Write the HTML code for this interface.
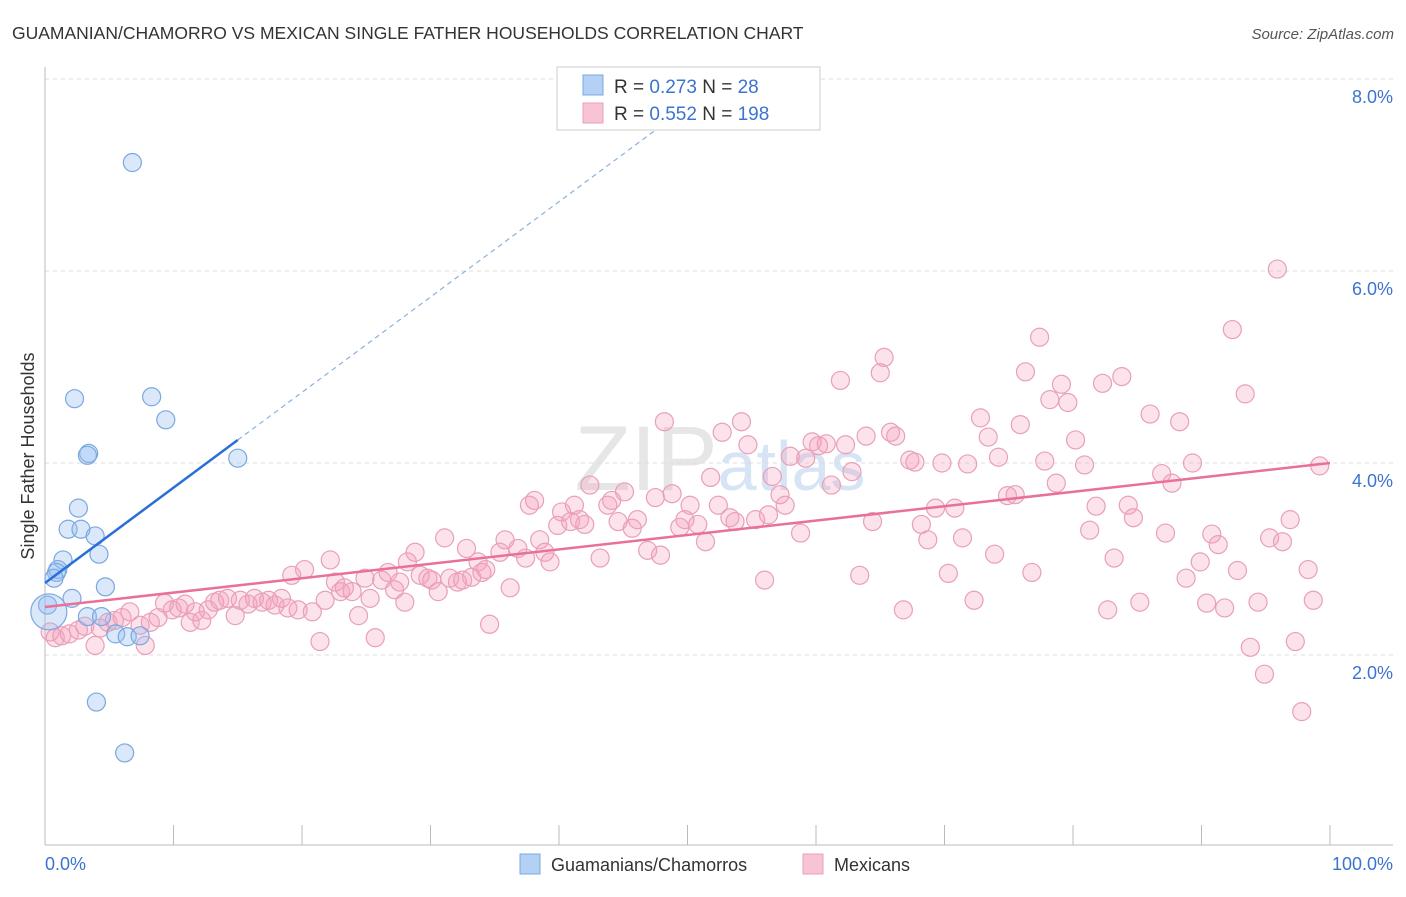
<!DOCTYPE html>
<html><head><meta charset="utf-8"><style>
body{margin:0;background:#fff;font-family:"Liberation Sans",sans-serif;}
svg text{font-family:"Liberation Sans",sans-serif;}
</style></head><body>
<svg id="chart" width="1406" height="892" xmlns="http://www.w3.org/2000/svg">
<text x="12" y="39" font-size="17.5" fill="#333">GUAMANIAN/CHAMORRO VS MEXICAN SINGLE FATHER HOUSEHOLDS CORRELATION CHART</text>
<text x="1394" y="39" font-size="15" fill="#555" text-anchor="end" font-style="italic">Source: ZipAtlas.com</text>
<text x="720" y="490" font-size="92" fill="#e6e6e6" text-anchor="middle" font-family="Liberation Serif">ZIP<tspan fill="#d6e4f5" font-family="Liberation Sans" font-size="70">atlas</tspan></text>
<g id="grid"></g>
<g id="axes"></g>
<g id="marks"></g>
<text transform="translate(34,456) rotate(-90)" font-size="18" fill="#333" text-anchor="middle">Single Father Households</text>
<g>
<rect x="557" y="67" width="263" height="63" fill="#fff" stroke="#ccc"/>
<rect x="583" y="75" width="20" height="20" fill="#b5d0f5" stroke="#7aa8e0"/>
<rect x="583" y="103" width="20" height="20" fill="#f8c4d4" stroke="#e8a0b8"/>
<text x="614" y="93" font-size="19" fill="#333">R = <tspan fill="#3b74d0">0.273</tspan>   N = <tspan fill="#3b74d0">  28</tspan></text>
<text x="614" y="120" font-size="19" fill="#333">R = <tspan fill="#3b74d0">0.552</tspan>   N = <tspan fill="#3b74d0">198</tspan></text>
</g>
<g>
<rect x="520" y="854" width="20" height="20" fill="#b5d0f5" stroke="#7aa8e0"/>
<text x="551" y="871" font-size="18" fill="#333">Guamanians/Chamorros</text>
<rect x="803" y="854" width="20" height="20" fill="#f8c4d4" stroke="#e8a0b8"/>
<text x="834" y="871" font-size="18" fill="#333">Mexicans</text>
</g>
</svg>
<script>
const yTicks=[2,4,6,8];
const yTickLabels=["2.0%","4.0%","6.0%","8.0%"];
const xTicks=[0,10,20,30,40,50,60,70,80,90,100];
const blueX=[6.8,2.3,8.3,9.4,3.4,3.3,15.0,2.6,1.8,2.8,3.9,4.2,1.4,1.0,0.9,0.7,4.7,2.1,0.2,3.3,4.4,5.5,6.4,7.4,4.0,6.2,0.3];
const blueY=[7.13,4.67,4.69,4.45,4.10,4.08,4.05,3.53,3.31,3.31,3.24,3.05,2.99,2.89,2.86,2.80,2.71,2.59,2.52,2.40,2.40,2.22,2.19,2.20,1.51,0.98,2.45];
const pinkX=[0.4,0.8,1.3,1.9,2.6,3.1,3.9,4.3,4.9,5.4,6.0,6.6,7.4,7.8,8.2,8.8,9.3,9.9,10.4,10.9,11.3,11.7,12.2,12.7,13.2,13.6,14.2,14.8,15.2,15.8,16.3,16.9,17.4,17.9,18.4,18.9,19.2,19.7,20.2,20.8,21.4,21.8,22.2,22.6,23.0,23.3,23.9,24.4,24.9,25.3,25.7,26.2,26.7,27.2,27.6,28.0,28.2,28.8,29.2,29.8,30.1,30.6,31.1,31.5,32.1,32.5,32.8,33.2,33.7,34.0,34.3,34.6,35.4,35.8,36.2,36.8,37.4,37.7,38.1,38.5,38.9,39.3,39.9,40.2,40.9,41.2,41.6,42.0,42.4,43.2,43.8,44.1,44.6,45.1,45.7,46.1,46.9,47.5,47.9,48.2,48.8,49.4,49.8,50.2,50.8,51.4,51.8,52.4,52.7,53.3,53.7,54.2,54.7,55.3,56.0,56.3,56.6,57.2,57.6,58.0,58.8,59.2,59.7,60.2,60.8,61.2,61.9,62.3,62.8,63.4,63.9,64.4,65.0,65.3,65.8,66.2,66.8,67.3,67.7,68.2,68.7,69.3,69.8,70.3,70.8,71.4,71.8,72.3,72.8,73.4,73.9,74.2,74.9,75.5,75.9,76.3,76.8,77.4,77.8,78.2,78.7,79.1,79.6,80.2,80.9,81.3,81.8,82.3,82.7,83.2,83.8,84.3,84.7,85.2,86.0,86.9,87.2,87.7,88.3,88.8,89.3,89.9,90.4,90.8,91.3,91.8,92.4,92.8,93.4,93.8,94.4,94.9,95.3,95.9,96.3,96.9,97.3,97.8,98.3,98.7,99.2];
const pinkY=[2.24,2.18,2.20,2.22,2.26,2.30,2.10,2.28,2.34,2.36,2.39,2.45,2.31,2.10,2.34,2.39,2.54,2.47,2.49,2.53,2.34,2.45,2.36,2.47,2.55,2.57,2.59,2.41,2.57,2.53,2.59,2.55,2.57,2.52,2.59,2.49,2.83,2.47,2.89,2.45,2.14,2.57,2.99,2.76,2.66,2.70,2.66,2.41,2.80,2.59,2.18,2.78,2.86,2.68,2.76,2.55,2.97,3.07,2.83,2.80,2.78,2.66,3.22,2.80,2.76,2.78,3.11,2.81,2.97,2.86,2.89,2.32,3.07,3.20,2.70,3.11,3.01,3.56,3.61,3.20,3.07,2.97,3.35,3.49,3.39,3.56,3.41,3.36,3.77,3.01,3.56,3.61,3.39,3.70,3.32,3.41,3.09,3.64,3.04,4.43,3.68,3.33,3.41,3.56,3.36,3.18,3.85,3.56,4.32,3.43,3.39,4.43,4.19,3.41,2.78,3.46,3.86,3.67,3.56,4.07,3.27,4.05,4.22,4.18,4.20,3.77,4.86,4.19,3.91,2.83,4.28,3.39,4.94,5.10,4.32,4.28,2.47,4.03,4.01,3.36,3.20,3.53,4.00,2.85,3.53,3.22,3.99,2.57,4.47,4.27,3.05,4.06,3.66,3.67,4.40,4.95,2.86,5.31,4.02,4.66,3.79,4.82,4.63,4.24,3.98,3.30,3.55,4.83,2.47,3.01,4.90,3.56,3.43,2.55,4.51,3.89,3.27,3.79,4.43,2.80,4.00,2.97,2.54,3.26,3.15,2.49,5.39,2.88,4.72,2.08,2.55,1.80,3.22,6.02,3.18,3.41,2.14,1.41,2.89,2.57,3.97];
const blueTrend=[2.75,0.0993];
const pinkTrend=[2.50,0.0150];

const NS="http://www.w3.org/2000/svg";
const X=v=>45+v*12.85, Y=v=>847-v*96;
function mk(tag,attrs,parent){const e=document.createElementNS(NS,tag);for(const k in attrs)e.setAttribute(k,attrs[k]);parent.appendChild(e);return e;}
const grid=document.getElementById('grid'),axes=document.getElementById('axes'),marks=document.getElementById('marks');
yTicks.forEach((t,i)=>{
  const l=mk('line',{x1:45,x2:1393,y1:Y(t),y2:Y(t),stroke:'#ddd','stroke-dasharray':'4,4'},grid);
  
  
  const tx=mk('text',{x:1393,y:Y(t)+24,'font-size':18,fill:'#3b74d0','text-anchor':'end'},axes);
  tx.textContent=yTickLabels[i];
  
  
});
const ax=mk('line',{x1:45,x2:45,y1:67,y2:845,stroke:'#bbb'},axes);


const bx=mk('line',{x1:45,x2:1393,y1:845,y2:845,stroke:'#bbb'},axes);


xTicks.forEach(t=>{
  const l=mk('line',{x1:X(t),x2:X(t),y1:825,y2:845,stroke:'#bbb'},axes);
  
  
});
const xl0=mk('text',{x:45,y:870,'font-size':18,fill:'#3b74d0'},axes);xl0.textContent='0.0%';


const xl1=mk('text',{x:1393,y:870,'font-size':18,fill:'#3b74d0','text-anchor':'end'},axes);xl1.textContent='100.0%';



pinkX.forEach((x,i)=>{
  const c=mk('circle',{cx:X(x),cy:Y(pinkY[i]),r:9,fill:'rgba(244,160,188,0.3)',stroke:'#e8a0b8','stroke-width':1.2},marks);
  
  
});
blueX.forEach((x,i)=>{
  const c=mk('circle',{cx:X(x),cy:Y(blueY[i]),r:i===blueX.length-1?18:9,fill:'rgba(150,190,240,0.35)',stroke:'#7aa8e0','stroke-width':1.2},marks);
  
  
});
const pt=mk('line',{x1:X(0),y1:Y(pinkTrend[0]),x2:X(100),y2:Y(pinkTrend[0]+pinkTrend[1]*100),stroke:'#e8709a','stroke-width':2.5},marks);


const bt=mk('line',{x1:X(0),y1:Y(blueTrend[0]),x2:X(15),y2:Y(blueTrend[0]+blueTrend[1]*15),stroke:'#2a6fd6','stroke-width':2.5},marks);


const bd=mk('line',{x1:X(15),y1:Y(blueTrend[0]+blueTrend[1]*15),x2:X(49.5),y2:Y(blueTrend[0]+blueTrend[1]*49.5),stroke:'#8ab0e0','stroke-width':1.2,'stroke-dasharray':'5,4'},marks);


</script>
</body></html>
